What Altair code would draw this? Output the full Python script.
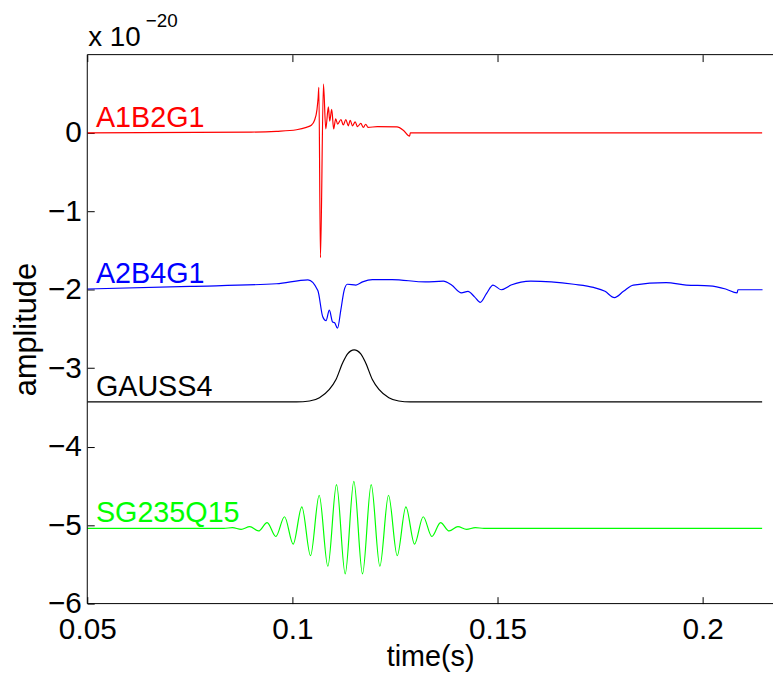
import altair as alt
import pandas as pd

# ---------------- data ----------------
names = ["A1B2G1", "A2B4G1", "GAUSS4", "SG235Q15"]
colors = ["#ff0000", "#0000ff", "#000000", "#00ff00"]

red_t = [0.05, 0.09, 0.0961, 0.1010, 0.1034, 0.1046, 0.1054, 0.1060, 0.10628, 0.10645,
         0.10684, 0.10757, 0.10813, 0.10877, 0.10910, 0.10958, 0.11006, 0.11055, 0.11103,
         0.11184, 0.11240, 0.11304, 0.11361, 0.11409, 0.11466, 0.11530, 0.11586, 0.11667,
         0.11731, 0.11787, 0.11844, 0.1207, 0.1255, 0.1271, 0.12858, 0.12874, 0.2145]
red_v = [0.0, 0.01, 0.02, 0.04, 0.07, 0.097, 0.16, 0.30, 0.45, 0.58,
         -1.59, 0.62, 0.05, 0.33, 0.15, 0.30, 0.05, 0.18, 0.11,
         0.17, 0.10, 0.17, 0.09, 0.16, 0.09, 0.14, 0.08, 0.12,
         0.07, 0.11, 0.07, 0.08, 0.075, 0.03, -0.042, 0.0, 0.0]

blue_t = [0.05, 0.075, 0.0961, 0.1038, 0.1062, 0.1074, 0.1082, 0.1090, 0.1098, 0.1103,
          0.1110, 0.1118, 0.1126, 0.1134, 0.1155, 0.1171, 0.1195, 0.1243, 0.1324, 0.1368,
          0.1388, 0.1412, 0.1428, 0.1444, 0.1458, 0.1473, 0.1489, 0.1509, 0.1533, 0.1581,
          0.1686, 0.1734, 0.1762, 0.1785, 0.1807, 0.1831, 0.1911, 0.1960, 0.2016, 0.2056,
          0.2084, 0.2086, 0.2146]
blue_v = [-1.99, -1.957, -1.923, -1.873, -2.01, -2.345, -2.395, -2.26, -2.41, -2.42,
          -2.49, -2.26, -2.01, -1.93, -1.94, -1.90, -1.87, -1.87, -1.90, -1.89,
          -1.94, -2.04, -2.02, -2.09, -2.16, -2.05, -1.94, -2.0, -1.94, -1.89,
          -1.93, -1.97, -2.02, -2.10, -2.02, -1.94, -1.91, -1.94, -1.95, -1.99,
          -2.04, -2.0, -2.0]

black_t = [0.05, 0.10097, 0.10418, 0.10660, 0.10901, 0.11063, 0.11224, 0.11345, 0.11505,
           0.11667, 0.11787, 0.11949, 0.12109, 0.12351, 0.12592, 0.12874, 0.2145]
black_v = [-3.43, -3.43, -3.418, -3.375, -3.27, -3.144, -2.933, -2.816, -2.765,
           -2.816, -2.933, -3.144, -3.27, -3.375, -3.418, -3.43, -3.43]

green_t = [0.05, 0.0833, 0.08540, 0.08751, 0.08962, 0.09174, 0.09385, 0.09596, 0.09808,
           0.10019, 0.10230, 0.10442, 0.10653, 0.10864, 0.11075, 0.11287, 0.11498, 0.11709,
           0.11921, 0.12132, 0.12343, 0.12555, 0.12766, 0.12977, 0.13188, 0.13400, 0.13611,
           0.13822, 0.14034, 0.14245, 0.14456, 0.1467, 0.2145]
green_v = [-5.04, -5.04, -5.032, -5.053, -5.019, -5.074, -4.968, -5.145, -4.893,
           -5.242, -4.766, -5.389, -4.619, -5.524, -4.484, -5.621, -4.442, -5.621,
           -4.484, -5.524, -4.619, -5.389, -4.766, -5.242, -4.893, -5.145, -4.968,
           -5.074, -5.019, -5.053, -5.032, -5.04, -5.04]

label_t = [0.0521, 0.0521, 0.0521, 0.0521]
label_v = [0.0, -1.99, -3.43, -5.04]

x_ticks = [0.05, 0.1, 0.15, 0.2]
y_ticks = [-6, -5, -4, -3, -2, -1, 0]

# ---------------- tables ----------------
rows = []
for name, ts, vs in zip(names, [red_t, blue_t, black_t, green_t],
                        [red_v, blue_v, black_v, green_v]):
    for t, v in zip(ts, vs):
        rows.append({"series": name, "t": t, "v": v})
df = pd.DataFrame(rows)
labels_df = pd.DataFrame({"series": names, "t": label_t, "v": label_v})
one = pd.DataFrame({"a": [0]})

W, H = 692, 554
FONT = "Liberation Sans"

xscale = alt.Scale(domain=[0.05, 0.21715], nice=False, zero=False)
yscale = alt.Scale(domain=[-6, 0.997], nice=False, zero=False)
color = alt.Color("series:N", scale=alt.Scale(domain=names, range=colors), legend=None)

tick_style = dict(domain=False, grid=False, tickSize=7, offset=-7, tickColor="black",
                  tickWidth=1, labelFont=FONT, labelFontSize=30, labelColor="black",
                  titleFont=FONT, titleFontWeight="normal", titleColor="black")

x_axis = alt.Axis(values=x_ticks, format="~g", title="time(s)", titleFontSize=29,
                  labelPadding=11, titlePadding=-2, labelFlush=False, **tick_style)
y_axis = alt.Axis(values=y_ticks, format="d", title="amplitude", titleFontSize=31,
                  labelPadding=6, titlePadding=5, **tick_style)

lines = alt.Chart(df).mark_line(strokeWidth=1.2, interpolate="monotone", clip=True).encode(
    x=alt.X("t:Q", scale=xscale, axis=x_axis),
    y=alt.Y("v:Q", scale=yscale, axis=y_axis),
    color=color,
    detail="series:N",
)

top_axis = alt.Chart(df[df.series == "GAUSS4"]).mark_line(opacity=0).encode(
    x=alt.X("t:Q", scale=xscale,
            axis=alt.Axis(orient="top", values=x_ticks, labels=False, title=None,
                          domain=False, grid=False, tickSize=7, offset=-7,
                          tickColor="black")),
    y=alt.Y("v:Q", scale=yscale, axis=y_axis),
)

texts = alt.Chart(labels_df).mark_text(align="left", baseline="alphabetic", dy=-6,
                                       font=FONT, fontSize=29).encode(
    x=alt.X("t:Q", scale=xscale, axis=None),
    y=alt.Y("v:Q", scale=yscale, axis=y_axis),
    text="series:N",
    color=color,
)

frame_left = alt.Chart(one).mark_rule(color="black", strokeWidth=1).encode(
    x=alt.value(0), y=alt.value(0), y2=alt.value(H))
frame_top = alt.Chart(one).mark_rule(color="black", strokeWidth=1).encode(
    x=alt.value(0), x2=alt.value(W + 5), y=alt.value(0))
frame_bottom = alt.Chart(one).mark_rule(color="black", strokeWidth=1).encode(
    x=alt.value(0), x2=alt.value(W + 5), y=alt.value(H))

mult = alt.Chart(one).mark_text(align="left", baseline="alphabetic", font=FONT,
                                fontSize=28, color="black").encode(
    x=alt.value(1), y=alt.value(-9), text=alt.value("x 10"))
mult_exp = alt.Chart(one).mark_text(align="left", baseline="alphabetic", font=FONT,
                                    fontSize=19, color="black").encode(
    x=alt.value(59), y=alt.value(-28), text=alt.value("\u221220"))

chart = alt.layer(lines, top_axis, texts, frame_left, frame_top, frame_bottom,
                  mult, mult_exp).resolve_axis(x="independent").properties(
    width=W, height=H,
    padding={"left": 80, "top": 44, "right": 0, "bottom": 70},
    autosize=alt.AutoSizeParams(type="none"),
).configure_view(stroke=None)

chart.save("out.html", embed_options={"renderer": "svg", "actions": False})
